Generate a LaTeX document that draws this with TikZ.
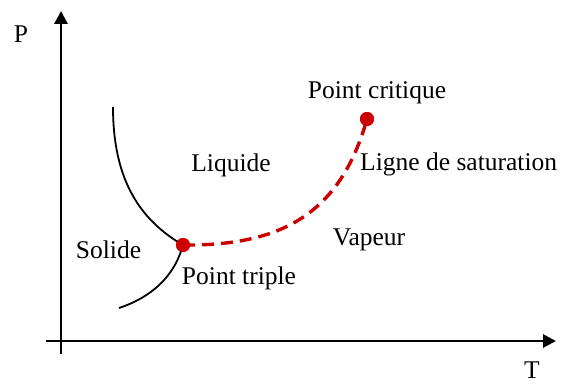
\documentclass[tikz,border=0pt]{standalone}
\usepackage{fontspec}
\setmainfont{Liberation Serif}
\usetikzlibrary{arrows.meta}
\definecolor{dotred}{HTML}{CC0000}
\tikzset{
  lbl/.style={anchor=base,inner sep=0pt,font=\fontsize{25.5}{30}\selectfont},
  axis/.style={line width=2.8pt,-{Triangle[length=13pt,width=13pt]}},
  phase/.style={line width=1.8pt},
  satline/.style={line width=3.4pt,dotred,dash pattern=on 12pt off 7pt},
  pt/.style={circle,fill=dotred,inner sep=0pt,minimum size=14pt}
}
\begin{document}
\begin{tikzpicture}[x=1pt,y=-1pt]
\useasboundingbox (0,0) rectangle (561,385);
% axes
\coordinate (ybot) at (61,354);
\coordinate (ytop) at (61,11);
\coordinate (xleft) at (46,341);
\coordinate (xright) at (556,341);
\draw[axis] (ybot) -- (ytop);
\draw[axis] (xleft) -- (xright);
% points
\node[pt] (tp) at (183,245) {};
\node[pt] (cp) at (367,119) {};
\coordinate (fusTop) at (113,107);
\coordinate (subBot) at (119,308);
% curves
\draw[phase] (fusTop) .. controls (113,180) and (140,220) .. (tp.center);
\draw[phase] (tp.center) .. controls (172,285) and (140,301) .. (subBot);
\draw[satline] (tp.center) .. controls (280,246) and (340,215) .. (cp.center);
\node[pt] at (tp.center) {};
\node[pt] at (cp.center) {};
% labels
\node[lbl] (lP) at (21,43) {P};
\node[lbl] (lT) at (532,378) {T};
\node[lbl] (lcrit) at (377,99) {Point critique};
\node[lbl,anchor=base west] (lsat) at (360,170) {Ligne de saturation};
\node[lbl] (lliq) at (231,171) {Liquide};
\node[lbl] (lvap) at (369,245) {Vapeur};
\node[lbl] (lsol) at (108.5,258) {Solide};
\node[lbl] (ltrip) at (239,284) {Point triple};
\end{tikzpicture}
\end{document}
